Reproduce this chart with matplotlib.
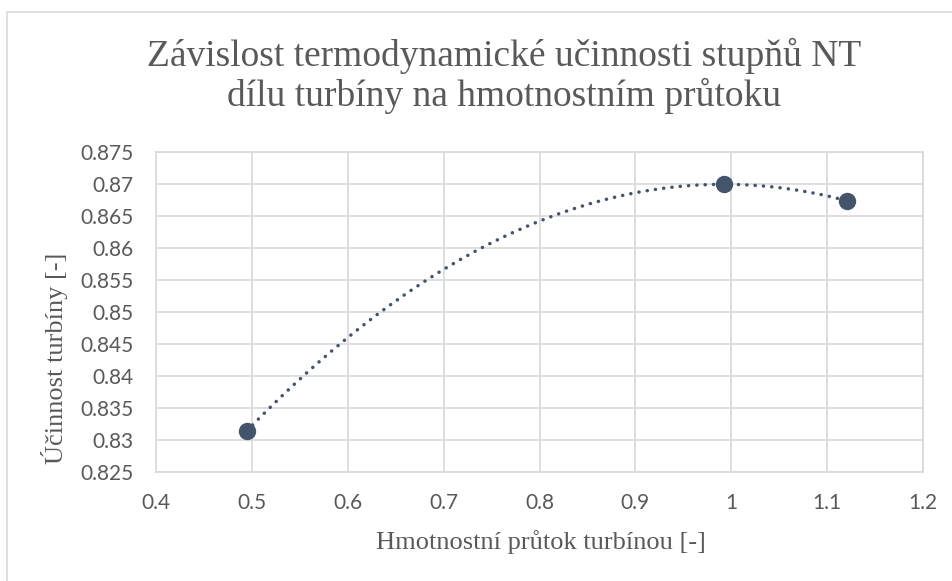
import numpy as np
import matplotlib
matplotlib.use("Agg")
import matplotlib.pyplot as plt
from matplotlib.patches import Rectangle

# data
prutok = [0.4946, 0.9924, 1.1204]
ucinnost = [0.8314, 0.86995, 0.86739]
xticks = [0.4, 0.5, 0.6, 0.7, 0.8, 0.9, 1.0, 1.1, 1.2]
yticks = [0.825, 0.83, 0.835, 0.84, 0.845, 0.85, 0.855, 0.86, 0.865, 0.87, 0.875]
xticklabels = ["0.4", "0.5", "0.6", "0.7", "0.8", "0.9", "1", "1.1", "1.2"]
yticklabels = ["0.825", "0.83", "0.835", "0.84", "0.845", "0.85", "0.855", "0.86", "0.865", "0.87", "0.875"]

barva = "#44546A"
seda = "#595959"

fig = plt.figure(figsize=(9.52, 5.81), dpi=100)
fig.patches.append(Rectangle((6.5/952, -0.1), 1.2, 1.1 - 12.5/581,
                             transform=fig.transFigure, fill=False,
                             edgecolor="#D9D9D9", linewidth=1.2))
ax = fig.add_axes([156/952, (581-472)/581, 767/952, 320/581])

# polynomial trendline (2nd order) through the points
coef = np.polyfit(prutok, ucinnost, 2)
xs = np.linspace(prutok[0], prutok[-1], 300)
ax.plot(xs, np.polyval(coef, xs), color=barva, linewidth=2.5,
        linestyle=(0, (0.05, 2.35)), dash_capstyle="round", zorder=3)
ax.plot(prutok, ucinnost, "o", color=barva, markersize=11.5, zorder=4)

ax.set_xlim(0.4, 1.2)
ax.set_ylim(0.825, 0.875)
ax.set_xticks(xticks)
ax.set_xticklabels(xticklabels)
ax.set_yticks(yticks)
ax.set_yticklabels(yticklabels)
ax.grid(True, color="#D9D9D9", linewidth=1.2)
ax.set_axisbelow(True)
for s in ax.spines.values():
    s.set_color("#D9D9D9")
    s.set_linewidth(1.2)
ax.tick_params(length=0, labelsize=15, labelcolor=seda)
ax.tick_params(axis="y", pad=16)
ax.tick_params(axis="x", pad=15)
for t in ax.get_xticklabels() + ax.get_yticklabels():
    t.set_fontfamily("Lato")

fig.text(504/952, 1 - 76/581, "Závislost termodynamické učinnosti stupňů NT\ndílu turbíny na hmotnostním průtoku",
         ha="center", va="center", fontsize=27, family="Liberation Serif", color=seda,
         linespacing=1.12)
fig.text(541/952, 1 - 542/581, "Hmotnostní průtok turbínou [-]", ha="center", va="center",
         fontsize=19, family="Liberation Serif", color=seda)
fig.text(54/952, 1 - 358/581, "Účinnost turbíny [-]", ha="center", va="center", rotation=90,
         fontsize=19, family="Liberation Serif", color=seda)

fig.savefig("out.png", dpi=100)
